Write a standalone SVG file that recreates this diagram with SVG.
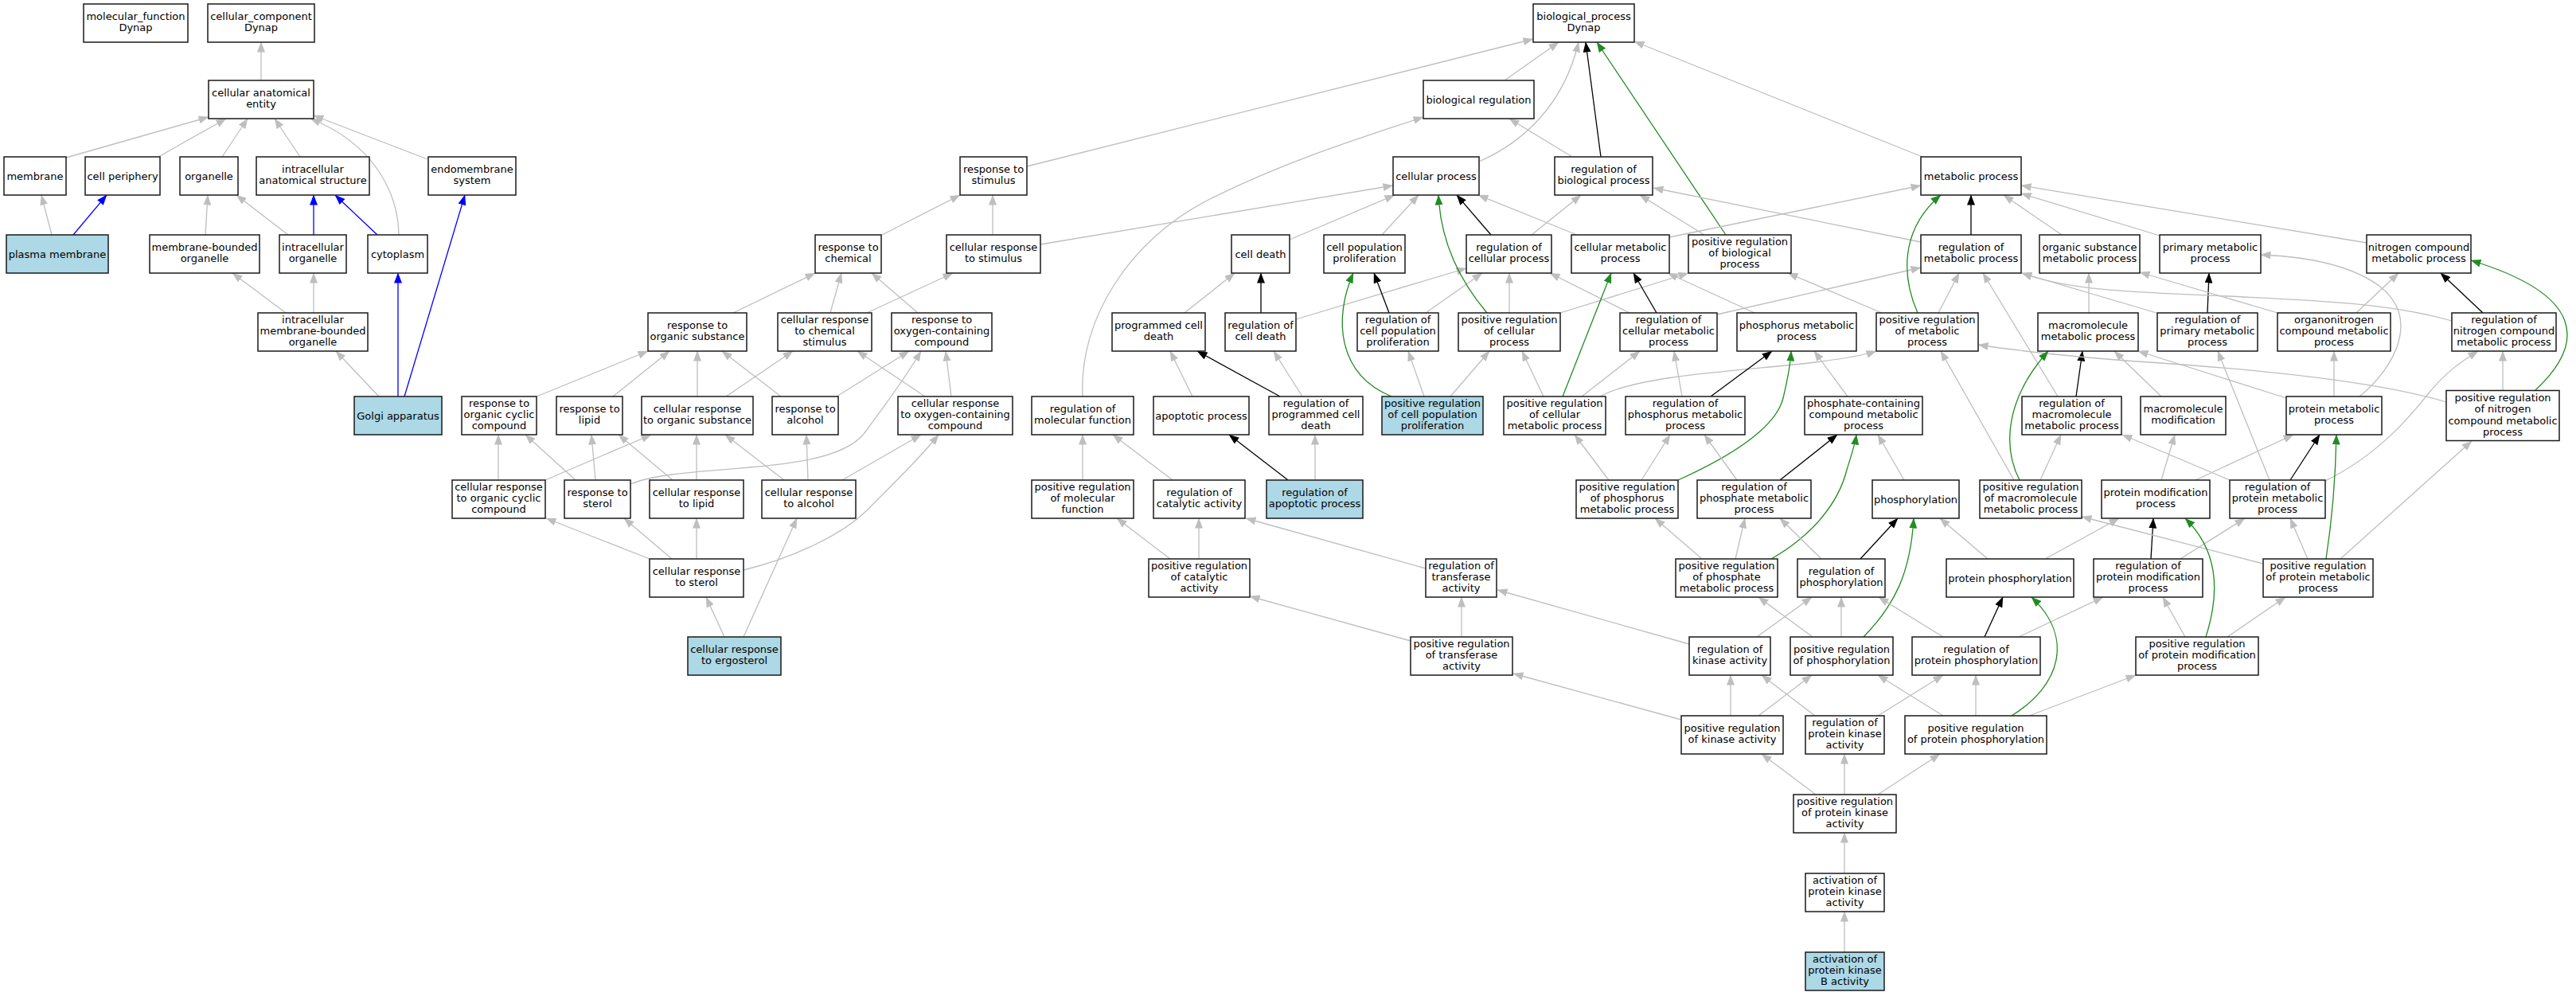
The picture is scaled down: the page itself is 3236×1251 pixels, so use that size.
<svg xmlns="http://www.w3.org/2000/svg" width="3236" height="1251" viewBox="0 0 3236 1251">
<style>
.bg{fill:#fff}
.n rect{fill:#fff;stroke:#1a1a1a;stroke-width:1.5}
.n.b rect{fill:#add8e6}
.n text{font-family:"DejaVu Sans",sans-serif;font-size:13px;text-anchor:middle;fill:#000}
.e path{fill:none;stroke-width:1.3}
.e .g{stroke:#bebebe;marker-end:url(#ag)}
.e .k{stroke:#000;marker-end:url(#ak)}
.e .v{stroke:#228b22;marker-end:url(#av)}
.e .u{stroke:#0000ff;marker-end:url(#au)}
</style>
<defs>
<marker id="ag" markerUnits="userSpaceOnUse" markerWidth="13" markerHeight="10" refX="12.5" refY="5" orient="auto"><path d="M0,0 L13,5 L0,10 z" fill="#bebebe"/></marker>
<marker id="ak" markerUnits="userSpaceOnUse" markerWidth="13" markerHeight="10" refX="12.5" refY="5" orient="auto"><path d="M0,0 L13,5 L0,10 z" fill="#000"/></marker>
<marker id="av" markerUnits="userSpaceOnUse" markerWidth="13" markerHeight="10" refX="12.5" refY="5" orient="auto"><path d="M0,0 L13,5 L0,10 z" fill="#228b22"/></marker>
<marker id="au" markerUnits="userSpaceOnUse" markerWidth="13" markerHeight="10" refX="12.5" refY="5" orient="auto"><path d="M0,0 L13,5 L0,10 z" fill="#0000ff"/></marker>
</defs>
<rect class="bg" x="0" y="0" width="3236" height="1251"/>
<g id="edges" class="e">
<path class="g" d="M328,101 L328,53"/>
<path class="g" d="M83,198 L262,147"/>
<path class="g" d="M199,197 L284,149"/>
<path class="g" d="M279,197 L311,149"/>
<path class="g" d="M377,197 L345,149"/>
<path class="g" d="M537,200 L394,145"/>
<path class="g" d="M501,295 C500,240 468,180 390,149"/>
<path class="g" d="M65,295 L52,245"/>
<path class="u" d="M92,295 L134,245"/>
<path class="g" d="M258,295 L261,245"/>
<path class="g" d="M362,295 L297,245"/>
<path class="u" d="M394,295 L394,245"/>
<path class="u" d="M474,295 L421,245"/>
<path class="g" d="M359,393 L292,343"/>
<path class="g" d="M394,393 L394,343"/>
<path class="g" d="M476,498 L422,441"/>
<path class="u" d="M500,498 L500,343"/>
<path class="u" d="M508,498 L584,245"/>
<path class="g" d="M1108,295 L1206,245"/>
<path class="g" d="M1247,295 L1247,245"/>
<path class="g" d="M1290,209 L1926,49"/>
<path class="g" d="M1307,307 L1750,233"/>
<path class="g" d="M921,393 L1024,343"/>
<path class="g" d="M1043,393 L1057,343"/>
<path class="g" d="M1089,393 L1197,343"/>
<path class="g" d="M1153,393 L1095,343"/>
<path class="g" d="M876,498 L876,441"/>
<path class="g" d="M912,498 L996,441"/>
<path class="g" d="M981,498 L907,441"/>
<path class="g" d="M1051,498 L1142,441"/>
<path class="g" d="M1195,498 L1188,441"/>
<path class="g" d="M1162,498 L1077,441"/>
<path class="g" d="M674,498 L814,441"/>
<path class="g" d="M770,498 L841,441"/>
<path class="g" d="M626,603 L626,546"/>
<path class="g" d="M685,603 L818,546"/>
<path class="g" d="M723,603 L660,546"/>
<path class="g" d="M748,603 L743,546"/>
<path class="g" d="M792,608 C860,580 1040,600 1085,545 C1115,505 1140,470 1157,441"/>
<path class="g" d="M845,603 L777,546"/>
<path class="g" d="M875,603 L875,546"/>
<path class="g" d="M985,603 L911,546"/>
<path class="g" d="M1015,603 L1013,546"/>
<path class="g" d="M1058,603 L1157,546"/>
<path class="g" d="M816,702 L686,651"/>
<path class="g" d="M844,702 L784,651"/>
<path class="g" d="M875,702 L875,651"/>
<path class="g" d="M934,716 C1000,700 1060,670 1090,640 C1130,600 1160,570 1179,546"/>
<path class="g" d="M910,800 L887,750"/>
<path class="g" d="M934,800 L1001,651"/>
<path class="g" d="M1890,101 L1958,53"/>
<path class="g" d="M1858,203 C1915,178 1965,130 1983,53"/>
<path class="k" d="M2011,197 L1992,53"/>
<path class="g" d="M1975,197 L1896,149"/>
<path class="v" d="M2168,295 L2006,53"/>
<path class="g" d="M2141,295 L2060,245"/>
<path class="g" d="M2415,197 L2053,52"/>
<path class="g" d="M1360,498 C1355,400 1420,300 1520,250 C1620,200 1720,170 1788,147"/>
<path class="g" d="M1620,301 L1752,245"/>
<path class="g" d="M1736,295 L1782,245"/>
<path class="k" d="M1873,295 L1830,245"/>
<path class="g" d="M1924,295 L1986,245"/>
<path class="g" d="M1981,295 L1857,245"/>
<path class="g" d="M2097,298 L2413,233"/>
<path class="k" d="M2476,295 L2476,245"/>
<path class="g" d="M2413,304 L2077,236"/>
<path class="g" d="M2590,295 L2517,245"/>
<path class="g" d="M2713,296 L2539,243"/>
<path class="g" d="M2973,305 L2539,233"/>
<path class="g" d="M1488,393 L1551,343"/>
<path class="k" d="M1584,393 L1584,343"/>
<path class="g" d="M1628,401 L1842,337"/>
<path class="k" d="M1745,393 L1726,343"/>
<path class="g" d="M1791,393 L1862,343"/>
<path class="v" d="M1868,393 C1840,360 1810,310 1807,245"/>
<path class="g" d="M1896,393 L1896,343"/>
<path class="g" d="M1960,393 L2121,343"/>
<path class="k" d="M2081,393 L2052,343"/>
<path class="g" d="M2047,393 L1947,343"/>
<path class="g" d="M2157,395 L2413,336"/>
<path class="g" d="M2204,393 L2095,343"/>
<path class="v" d="M2409,393 C2390,350 2385,290 2438,245"/>
<path class="g" d="M2435,393 L2461,343"/>
<path class="g" d="M2364,393 L2246,343"/>
<path class="g" d="M2624,393 L2624,343"/>
<path class="k" d="M2773,393 L2775,343"/>
<path class="g" d="M2709,393 L2540,343"/>
<path class="g" d="M2861,393 L2688,342"/>
<path class="g" d="M2960,393 L3013,343"/>
<path class="k" d="M3119,393 L3066,343"/>
<path class="g" d="M3080,403 C3000,380 2900,377 2800,372 C2680,367 2600,365 2540,343"/>
<path class="g" d="M1498,498 L1470,441"/>
<path class="k" d="M1608,498 L1504,441"/>
<path class="g" d="M1636,498 L1600,441"/>
<path class="v" d="M1748,498 C1680,470 1675,400 1700,343"/>
<path class="g" d="M1789,498 L1769,441"/>
<path class="g" d="M1822,498 L1871,441"/>
<path class="g" d="M1939,498 L1912,441"/>
<path class="v" d="M1963,498 L2024,343"/>
<path class="g" d="M1987,498 L2060,441"/>
<path class="g" d="M2010,498 C2060,470 2200,465 2280,455 C2320,450 2345,445 2357,441"/>
<path class="g" d="M2113,498 L2103,441"/>
<path class="k" d="M2149,498 L2226,441"/>
<path class="g" d="M2321,498 L2279,441"/>
<path class="k" d="M2608,498 L2616,441"/>
<path class="g" d="M2585,498 L2491,343"/>
<path class="g" d="M2715,498 L2656,441"/>
<path class="g" d="M2872,500 L2686,441"/>
<path class="g" d="M2932,498 L2932,441"/>
<path class="g" d="M2964,498 C3010,460 3040,400 2990,360 C2950,330 2890,322 2840,320"/>
<path class="v" d="M3184,491 C3250,430 3245,370 3104,327"/>
<path class="g" d="M3144,491 L3144,441"/>
<path class="g" d="M3073,505 C2990,480 2850,465 2700,455 C2600,448 2530,440 2485,433"/>
<path class="k" d="M1618,603 L1544,546"/>
<path class="g" d="M1652,603 L1652,546"/>
<path class="g" d="M1360,603 L1360,546"/>
<path class="g" d="M1473,603 L1398,546"/>
<path class="g" d="M2021,603 L1978,546"/>
<path class="g" d="M2062,603 L2098,546"/>
<path class="v" d="M2108,603 C2170,575 2230,540 2240,500 C2246,475 2249,460 2250,441"/>
<path class="g" d="M2182,603 L2141,546"/>
<path class="k" d="M2236,603 L2308,546"/>
<path class="g" d="M2392,603 L2359,546"/>
<path class="v" d="M2537,603 C2515,560 2520,500 2573,441"/>
<path class="g" d="M2563,603 L2589,546"/>
<path class="g" d="M2530,603 L2438,441"/>
<path class="g" d="M2715,603 L2732,546"/>
<path class="g" d="M2758,603 L2881,546"/>
<path class="k" d="M2877,603 L2914,546"/>
<path class="g" d="M2801,603 L2666,546"/>
<path class="g" d="M2851,603 L2786,441"/>
<path class="g" d="M2921,604 C2990,570 3030,520 3050,495 C3070,470 3090,455 3113,441"/>
<path class="g" d="M1470,702 L1403,651"/>
<path class="g" d="M1506,702 L1506,651"/>
<path class="g" d="M1791,714 L1565,651"/>
<path class="g" d="M2138,702 L2079,651"/>
<path class="g" d="M2180,702 L2192,651"/>
<path class="v" d="M2225,702 C2280,670 2310,630 2320,590 C2326,570 2330,560 2332,546"/>
<path class="g" d="M2288,702 L2236,651"/>
<path class="k" d="M2337,702 L2384,651"/>
<path class="g" d="M2497,702 L2437,651"/>
<path class="g" d="M2569,702 L2662,651"/>
<path class="k" d="M2702,702 L2705,651"/>
<path class="g" d="M2739,702 L2820,651"/>
<path class="g" d="M2899,702 L2877,651"/>
<path class="v" d="M2922,702 C2930,650 2934,600 2935,546"/>
<path class="g" d="M2940,702 L3105,554"/>
<path class="g" d="M2843,708 L2615,649"/>
<path class="g" d="M1836,800 L1836,750"/>
<path class="g" d="M1772,805 L1570,749"/>
<path class="g" d="M2122,809 L1881,741"/>
<path class="g" d="M2207,800 L2276,750"/>
<path class="g" d="M2277,800 L2209,750"/>
<path class="g" d="M2313,800 L2313,750"/>
<path class="v" d="M2341,800 C2380,760 2400,720 2404,651"/>
<path class="g" d="M2441,800 L2360,750"/>
<path class="k" d="M2493,800 L2516,750"/>
<path class="g" d="M2536,800 L2642,750"/>
<path class="g" d="M2745,800 L2717,750"/>
<path class="v" d="M2771,800 C2790,740 2785,690 2745,651"/>
<path class="g" d="M2798,800 L2871,750"/>
<path class="g" d="M2112,904 L1901,846"/>
<path class="g" d="M2174,899 L2174,848"/>
<path class="g" d="M2209,899 L2276,848"/>
<path class="g" d="M2280,899 L2213,848"/>
<path class="g" d="M2359,899 L2441,848"/>
<path class="g" d="M2441,899 L2359,848"/>
<path class="g" d="M2482,899 L2482,848"/>
<path class="v" d="M2527,899 C2590,860 2605,800 2552,750"/>
<path class="g" d="M2549,899 L2683,848"/>
<path class="g" d="M2281,998 L2213,947"/>
<path class="g" d="M2317,998 L2317,947"/>
<path class="g" d="M2359,998 L2437,947"/>
<path class="g" d="M2317,1097 L2317,1046"/>
<path class="g" d="M2317,1196 L2317,1145"/>
</g>
<g id="n_mf" class="n"><rect x="105" y="5" width="131" height="48"/><text><tspan x="170.5" y="24.8">molecular_function</tspan><tspan x="170.5" y="39.2">Dynap</tspan></text></g>
<g id="n_cc" class="n"><rect x="261" y="5" width="134" height="48"/><text><tspan x="328" y="24.8">cellular_component</tspan><tspan x="328" y="39.2">Dynap</tspan></text></g>
<g id="n_bp" class="n"><rect x="1926" y="5" width="127" height="48"/><text><tspan x="1989.5" y="24.8">biological_process</tspan><tspan x="1989.5" y="39.2">Dynap</tspan></text></g>
<g id="n_cae" class="n"><rect x="262" y="101" width="132" height="48"/><text><tspan x="328" y="120.8">cellular anatomical</tspan><tspan x="328" y="135.2">entity</tspan></text></g>
<g id="n_breg" class="n"><rect x="1788" y="101" width="139" height="48"/><text><tspan x="1857.5" y="129.5">biological regulation</tspan></text></g>
<g id="n_membrane" class="n"><rect x="5" y="197" width="78" height="48"/><text><tspan x="44" y="225.5">membrane</tspan></text></g>
<g id="n_cellperiph" class="n"><rect x="107" y="197" width="94" height="48"/><text><tspan x="154" y="225.5">cell periphery</tspan></text></g>
<g id="n_organelle" class="n"><rect x="226" y="197" width="73" height="48"/><text><tspan x="262.5" y="225.5">organelle</tspan></text></g>
<g id="n_ias" class="n"><rect x="322" y="197" width="142" height="48"/><text><tspan x="393" y="216.8">intracellular</tspan><tspan x="393" y="231.2">anatomical structure</tspan></text></g>
<g id="n_endo" class="n"><rect x="538" y="197" width="110" height="48"/><text><tspan x="593" y="216.8">endomembrane</tspan><tspan x="593" y="231.2">system</tspan></text></g>
<g id="n_rstim" class="n"><rect x="1206" y="197" width="84" height="48"/><text><tspan x="1248" y="216.8">response to</tspan><tspan x="1248" y="231.2">stimulus</tspan></text></g>
<g id="n_cellproc" class="n"><rect x="1750" y="197" width="108" height="48"/><text><tspan x="1804" y="225.5">cellular process</tspan></text></g>
<g id="n_regbp" class="n"><rect x="1953" y="197" width="123" height="48"/><text><tspan x="2014.5" y="216.8">regulation of</tspan><tspan x="2014.5" y="231.2">biological process</tspan></text></g>
<g id="n_metab" class="n"><rect x="2413" y="197" width="126" height="48"/><text><tspan x="2476" y="225.5">metabolic process</tspan></text></g>
<g id="n_pm" class="n b"><rect x="8" y="295" width="128" height="48"/><text><tspan x="72" y="323.5">plasma membrane</tspan></text></g>
<g id="n_mbo" class="n"><rect x="188" y="295" width="138" height="48"/><text><tspan x="257" y="314.8">membrane-bounded</tspan><tspan x="257" y="329.2">organelle</tspan></text></g>
<g id="n_io" class="n"><rect x="351" y="295" width="84" height="48"/><text><tspan x="393" y="314.8">intracellular</tspan><tspan x="393" y="329.2">organelle</tspan></text></g>
<g id="n_cyto" class="n"><rect x="462" y="295" width="75" height="48"/><text><tspan x="499.5" y="323.5">cytoplasm</tspan></text></g>
<g id="n_rchem" class="n"><rect x="1024" y="295" width="83" height="48"/><text><tspan x="1065.5" y="314.8">response to</tspan><tspan x="1065.5" y="329.2">chemical</tspan></text></g>
<g id="n_crstim" class="n"><rect x="1189" y="295" width="118" height="48"/><text><tspan x="1248" y="314.8">cellular response</tspan><tspan x="1248" y="329.2">to stimulus</tspan></text></g>
<g id="n_celldeath" class="n"><rect x="1547" y="295" width="73" height="48"/><text><tspan x="1583.5" y="323.5">cell death</tspan></text></g>
<g id="n_cpp" class="n"><rect x="1663" y="295" width="102" height="48"/><text><tspan x="1714" y="314.8">cell population</tspan><tspan x="1714" y="329.2">proliferation</tspan></text></g>
<g id="n_regcp" class="n"><rect x="1842" y="295" width="107" height="48"/><text><tspan x="1895.5" y="314.8">regulation of</tspan><tspan x="1895.5" y="329.2">cellular process</tspan></text></g>
<g id="n_cmp" class="n"><rect x="1974" y="295" width="123" height="48"/><text><tspan x="2035.5" y="314.8">cellular metabolic</tspan><tspan x="2035.5" y="329.2">process</tspan></text></g>
<g id="n_posregbp" class="n"><rect x="2121" y="295" width="129" height="48"/><text><tspan x="2185.5" y="307.6">positive regulation</tspan><tspan x="2185.5" y="322">of biological</tspan><tspan x="2185.5" y="336.4">process</tspan></text></g>
<g id="n_regmp" class="n"><rect x="2413" y="295" width="126" height="48"/><text><tspan x="2476" y="314.8">regulation of</tspan><tspan x="2476" y="329.2">metabolic process</tspan></text></g>
<g id="n_osmp" class="n"><rect x="2562" y="295" width="126" height="48"/><text><tspan x="2625" y="314.8">organic substance</tspan><tspan x="2625" y="329.2">metabolic process</tspan></text></g>
<g id="n_pmp" class="n"><rect x="2713" y="295" width="127" height="48"/><text><tspan x="2776.5" y="314.8">primary metabolic</tspan><tspan x="2776.5" y="329.2">process</tspan></text></g>
<g id="n_ncmp" class="n"><rect x="2973" y="295" width="131" height="48"/><text><tspan x="3038.5" y="314.8">nitrogen compound</tspan><tspan x="3038.5" y="329.2">metabolic process</tspan></text></g>
<g id="n_imbo" class="n"><rect x="324" y="393" width="138" height="48"/><text><tspan x="393" y="405.6">intracellular</tspan><tspan x="393" y="420">membrane-bounded</tspan><tspan x="393" y="434.4">organelle</tspan></text></g>
<g id="n_ros" class="n"><rect x="814" y="393" width="124" height="48"/><text><tspan x="876" y="412.8">response to</tspan><tspan x="876" y="427.2">organic substance</tspan></text></g>
<g id="n_crchem" class="n"><rect x="977" y="393" width="118" height="48"/><text><tspan x="1036" y="405.6">cellular response</tspan><tspan x="1036" y="420">to chemical</tspan><tspan x="1036" y="434.4">stimulus</tspan></text></g>
<g id="n_roxy" class="n"><rect x="1120" y="393" width="126" height="48"/><text><tspan x="1183" y="405.6">response to</tspan><tspan x="1183" y="420">oxygen-containing</tspan><tspan x="1183" y="434.4">compound</tspan></text></g>
<g id="n_pcd" class="n"><rect x="1397" y="393" width="117" height="48"/><text><tspan x="1455.5" y="412.8">programmed cell</tspan><tspan x="1455.5" y="427.2">death</tspan></text></g>
<g id="n_regcd" class="n"><rect x="1539" y="393" width="89" height="48"/><text><tspan x="1583.5" y="412.8">regulation of</tspan><tspan x="1583.5" y="427.2">cell death</tspan></text></g>
<g id="n_regcpp" class="n"><rect x="1705" y="393" width="102" height="48"/><text><tspan x="1756" y="405.6">regulation of</tspan><tspan x="1756" y="420">cell population</tspan><tspan x="1756" y="434.4">proliferation</tspan></text></g>
<g id="n_posregcp" class="n"><rect x="1832" y="393" width="128" height="48"/><text><tspan x="1896" y="405.6">positive regulation</tspan><tspan x="1896" y="420">of cellular</tspan><tspan x="1896" y="434.4">process</tspan></text></g>
<g id="n_regcmp" class="n"><rect x="2035" y="393" width="122" height="48"/><text><tspan x="2096" y="405.6">regulation of</tspan><tspan x="2096" y="420">cellular metabolic</tspan><tspan x="2096" y="434.4">process</tspan></text></g>
<g id="n_phosmp" class="n"><rect x="2182" y="393" width="150" height="48"/><text><tspan x="2257" y="412.8">phosphorus metabolic</tspan><tspan x="2257" y="427.2">process</tspan></text></g>
<g id="n_posregmp" class="n"><rect x="2357" y="393" width="128" height="48"/><text><tspan x="2421" y="405.6">positive regulation</tspan><tspan x="2421" y="420">of metabolic</tspan><tspan x="2421" y="434.4">process</tspan></text></g>
<g id="n_mmp" class="n"><rect x="2560" y="393" width="126" height="48"/><text><tspan x="2623" y="412.8">macromolecule</tspan><tspan x="2623" y="427.2">metabolic process</tspan></text></g>
<g id="n_regpmp" class="n"><rect x="2710" y="393" width="126" height="48"/><text><tspan x="2773" y="405.6">regulation of</tspan><tspan x="2773" y="420">primary metabolic</tspan><tspan x="2773" y="434.4">process</tspan></text></g>
<g id="n_onmp" class="n"><rect x="2861" y="393" width="142" height="48"/><text><tspan x="2932" y="405.6">organonitrogen</tspan><tspan x="2932" y="420">compound metabolic</tspan><tspan x="2932" y="434.4">process</tspan></text></g>
<g id="n_regncmp" class="n"><rect x="3080" y="393" width="131" height="48"/><text><tspan x="3145.5" y="405.6">regulation of</tspan><tspan x="3145.5" y="420">nitrogen compound</tspan><tspan x="3145.5" y="434.4">metabolic process</tspan></text></g>
<g id="n_golgi" class="n b"><rect x="445" y="498" width="110" height="48"/><text><tspan x="500" y="526.5">Golgi apparatus</tspan></text></g>
<g id="n_rocc" class="n"><rect x="580" y="498" width="94" height="48"/><text><tspan x="627" y="510.6">response to</tspan><tspan x="627" y="525">organic cyclic</tspan><tspan x="627" y="539.4">compound</tspan></text></g>
<g id="n_rlipid" class="n"><rect x="699" y="498" width="83" height="48"/><text><tspan x="740.5" y="517.8">response to</tspan><tspan x="740.5" y="532.2">lipid</tspan></text></g>
<g id="n_cros" class="n"><rect x="806" y="498" width="140" height="48"/><text><tspan x="876" y="517.8">cellular response</tspan><tspan x="876" y="532.2">to organic substance</tspan></text></g>
<g id="n_ralc" class="n"><rect x="970" y="498" width="83" height="48"/><text><tspan x="1011.5" y="517.8">response to</tspan><tspan x="1011.5" y="532.2">alcohol</tspan></text></g>
<g id="n_croxy" class="n"><rect x="1128" y="498" width="144" height="48"/><text><tspan x="1200" y="510.6">cellular response</tspan><tspan x="1200" y="525">to oxygen-containing</tspan><tspan x="1200" y="539.4">compound</tspan></text></g>
<g id="n_regmf" class="n"><rect x="1296" y="498" width="128" height="48"/><text><tspan x="1360" y="517.8">regulation of</tspan><tspan x="1360" y="532.2">molecular function</tspan></text></g>
<g id="n_apop" class="n"><rect x="1449" y="498" width="120" height="48"/><text><tspan x="1509" y="526.5">apoptotic process</tspan></text></g>
<g id="n_regpcd" class="n"><rect x="1594" y="498" width="118" height="48"/><text><tspan x="1653" y="510.6">regulation of</tspan><tspan x="1653" y="525">programmed cell</tspan><tspan x="1653" y="539.4">death</tspan></text></g>
<g id="n_posregcpp" class="n b"><rect x="1736" y="498" width="127" height="48"/><text><tspan x="1799.5" y="510.6">positive regulation</tspan><tspan x="1799.5" y="525">of cell population</tspan><tspan x="1799.5" y="539.4">proliferation</tspan></text></g>
<g id="n_posregcmp" class="n"><rect x="1889" y="498" width="128" height="48"/><text><tspan x="1953" y="510.6">positive regulation</tspan><tspan x="1953" y="525">of cellular</tspan><tspan x="1953" y="539.4">metabolic process</tspan></text></g>
<g id="n_regphosmp" class="n"><rect x="2042" y="498" width="150" height="48"/><text><tspan x="2117" y="510.6">regulation of</tspan><tspan x="2117" y="525">phosphorus metabolic</tspan><tspan x="2117" y="539.4">process</tspan></text></g>
<g id="n_pccmp" class="n"><rect x="2267" y="498" width="148" height="48"/><text><tspan x="2341" y="510.6">phosphate-containing</tspan><tspan x="2341" y="525">compound metabolic</tspan><tspan x="2341" y="539.4">process</tspan></text></g>
<g id="n_regmacmp" class="n"><rect x="2540" y="498" width="125" height="48"/><text><tspan x="2602.5" y="510.6">regulation of</tspan><tspan x="2602.5" y="525">macromolecule</tspan><tspan x="2602.5" y="539.4">metabolic process</tspan></text></g>
<g id="n_macmod" class="n"><rect x="2689" y="498" width="107" height="48"/><text><tspan x="2742.5" y="517.8">macromolecule</tspan><tspan x="2742.5" y="532.2">modification</tspan></text></g>
<g id="n_protmp" class="n"><rect x="2872" y="498" width="120" height="48"/><text><tspan x="2932" y="517.8">protein metabolic</tspan><tspan x="2932" y="532.2">process</tspan></text></g>
<g id="n_posregncmp" class="n"><rect x="3073" y="490.5" width="142" height="63"/><text><tspan x="3144" y="503.9">positive regulation</tspan><tspan x="3144" y="518.3">of nitrogen</tspan><tspan x="3144" y="532.7">compound metabolic</tspan><tspan x="3144" y="547.1">process</tspan></text></g>
<g id="n_crocc" class="n"><rect x="568" y="603" width="117" height="48"/><text><tspan x="626.5" y="615.6">cellular response</tspan><tspan x="626.5" y="630">to organic cyclic</tspan><tspan x="626.5" y="644.4">compound</tspan></text></g>
<g id="n_rsterol" class="n"><rect x="709" y="603" width="83" height="48"/><text><tspan x="750.5" y="622.8">response to</tspan><tspan x="750.5" y="637.2">sterol</tspan></text></g>
<g id="n_crlipid" class="n"><rect x="816" y="603" width="118" height="48"/><text><tspan x="875" y="622.8">cellular response</tspan><tspan x="875" y="637.2">to lipid</tspan></text></g>
<g id="n_cralc" class="n"><rect x="957" y="603" width="118" height="48"/><text><tspan x="1016" y="622.8">cellular response</tspan><tspan x="1016" y="637.2">to alcohol</tspan></text></g>
<g id="n_posregmf" class="n"><rect x="1296" y="603" width="128" height="48"/><text><tspan x="1360" y="615.6">positive regulation</tspan><tspan x="1360" y="630">of molecular</tspan><tspan x="1360" y="644.4">function</tspan></text></g>
<g id="n_regcat" class="n"><rect x="1449" y="603" width="115" height="48"/><text><tspan x="1506.5" y="622.8">regulation of</tspan><tspan x="1506.5" y="637.2">catalytic activity</tspan></text></g>
<g id="n_regapop" class="n b"><rect x="1591" y="603" width="121" height="48"/><text><tspan x="1651.5" y="622.8">regulation of</tspan><tspan x="1651.5" y="637.2">apoptotic process</tspan></text></g>
<g id="n_posregphosmp" class="n"><rect x="1980" y="603" width="128" height="48"/><text><tspan x="2044" y="615.6">positive regulation</tspan><tspan x="2044" y="630">of phosphorus</tspan><tspan x="2044" y="644.4">metabolic process</tspan></text></g>
<g id="n_regphatemp" class="n"><rect x="2132" y="603" width="143" height="48"/><text><tspan x="2203.5" y="615.6">regulation of</tspan><tspan x="2203.5" y="630">phosphate metabolic</tspan><tspan x="2203.5" y="644.4">process</tspan></text></g>
<g id="n_phosph" class="n"><rect x="2352" y="603" width="109" height="48"/><text><tspan x="2406.5" y="631.5">phosphorylation</tspan></text></g>
<g id="n_posregmacmp" class="n"><rect x="2487" y="603" width="128" height="48"/><text><tspan x="2551" y="615.6">positive regulation</tspan><tspan x="2551" y="630">of macromolecule</tspan><tspan x="2551" y="644.4">metabolic process</tspan></text></g>
<g id="n_protmod" class="n"><rect x="2640" y="603" width="136" height="48"/><text><tspan x="2708" y="622.8">protein modification</tspan><tspan x="2708" y="637.2">process</tspan></text></g>
<g id="n_regprotmp" class="n"><rect x="2801" y="603" width="120" height="48"/><text><tspan x="2861" y="615.6">regulation of</tspan><tspan x="2861" y="630">protein metabolic</tspan><tspan x="2861" y="644.4">process</tspan></text></g>
<g id="n_crsterol" class="n"><rect x="816" y="702" width="118" height="48"/><text><tspan x="875" y="721.8">cellular response</tspan><tspan x="875" y="736.2">to sterol</tspan></text></g>
<g id="n_posregcat" class="n"><rect x="1443" y="702" width="127" height="48"/><text><tspan x="1506.5" y="714.6">positive regulation</tspan><tspan x="1506.5" y="729">of catalytic</tspan><tspan x="1506.5" y="743.4">activity</tspan></text></g>
<g id="n_regtrans" class="n"><rect x="1791" y="702" width="89" height="48"/><text><tspan x="1835.5" y="714.6">regulation of</tspan><tspan x="1835.5" y="729">transferase</tspan><tspan x="1835.5" y="743.4">activity</tspan></text></g>
<g id="n_posregphatemp" class="n"><rect x="2105" y="702" width="128" height="48"/><text><tspan x="2169" y="714.6">positive regulation</tspan><tspan x="2169" y="729">of phosphate</tspan><tspan x="2169" y="743.4">metabolic process</tspan></text></g>
<g id="n_regphosph" class="n"><rect x="2258" y="702" width="110" height="48"/><text><tspan x="2313" y="721.8">regulation of</tspan><tspan x="2313" y="736.2">phosphorylation</tspan></text></g>
<g id="n_protphosph" class="n"><rect x="2445" y="702" width="160" height="48"/><text><tspan x="2525" y="730.5">protein phosphorylation</tspan></text></g>
<g id="n_regprotmod" class="n"><rect x="2630" y="702" width="137" height="48"/><text><tspan x="2698.5" y="714.6">regulation of</tspan><tspan x="2698.5" y="729">protein modification</tspan><tspan x="2698.5" y="743.4">process</tspan></text></g>
<g id="n_posregprotmp" class="n"><rect x="2843" y="702" width="138" height="48"/><text><tspan x="2912" y="714.6">positive regulation</tspan><tspan x="2912" y="729">of protein metabolic</tspan><tspan x="2912" y="743.4">process</tspan></text></g>
<g id="n_crergo" class="n b"><rect x="864" y="800" width="117" height="48"/><text><tspan x="922.5" y="819.8">cellular response</tspan><tspan x="922.5" y="834.2">to ergosterol</tspan></text></g>
<g id="n_posregtrans" class="n"><rect x="1772" y="800" width="128" height="48"/><text><tspan x="1836" y="812.6">positive regulation</tspan><tspan x="1836" y="827">of transferase</tspan><tspan x="1836" y="841.4">activity</tspan></text></g>
<g id="n_regkin" class="n"><rect x="2122" y="800" width="102" height="48"/><text><tspan x="2173" y="819.8">regulation of</tspan><tspan x="2173" y="834.2">kinase activity</tspan></text></g>
<g id="n_posregphosph" class="n"><rect x="2249" y="800" width="129" height="48"/><text><tspan x="2313.5" y="819.8">positive regulation</tspan><tspan x="2313.5" y="834.2">of phosphorylation</tspan></text></g>
<g id="n_regprotphosph" class="n"><rect x="2402" y="800" width="161" height="48"/><text><tspan x="2482.5" y="819.8">regulation of</tspan><tspan x="2482.5" y="834.2">protein phosphorylation</tspan></text></g>
<g id="n_posregprotmod" class="n"><rect x="2683" y="800" width="154" height="48"/><text><tspan x="2760" y="812.6">positive regulation</tspan><tspan x="2760" y="827">of protein modification</tspan><tspan x="2760" y="841.4">process</tspan></text></g>
<g id="n_posregkin" class="n"><rect x="2112" y="899" width="128" height="48"/><text><tspan x="2176" y="918.8">positive regulation</tspan><tspan x="2176" y="933.2">of kinase activity</tspan></text></g>
<g id="n_regpk" class="n"><rect x="2268" y="899" width="99" height="48"/><text><tspan x="2317.5" y="911.6">regulation of</tspan><tspan x="2317.5" y="926">protein kinase</tspan><tspan x="2317.5" y="940.4">activity</tspan></text></g>
<g id="n_posregprotphosph" class="n"><rect x="2393" y="899" width="178" height="48"/><text><tspan x="2482" y="918.8">positive regulation</tspan><tspan x="2482" y="933.2">of protein phosphorylation</tspan></text></g>
<g id="n_posregpk" class="n"><rect x="2253" y="998" width="129" height="48"/><text><tspan x="2317.5" y="1010.6">positive regulation</tspan><tspan x="2317.5" y="1025">of protein kinase</tspan><tspan x="2317.5" y="1039.4">activity</tspan></text></g>
<g id="n_actpk" class="n"><rect x="2268" y="1097" width="99" height="48"/><text><tspan x="2317.5" y="1109.6">activation of</tspan><tspan x="2317.5" y="1124">protein kinase</tspan><tspan x="2317.5" y="1138.4">activity</tspan></text></g>
<g id="n_actpkb" class="n b"><rect x="2268" y="1196" width="99" height="48"/><text><tspan x="2317.5" y="1208.6">activation of</tspan><tspan x="2317.5" y="1223">protein kinase</tspan><tspan x="2317.5" y="1237.4">B activity</tspan></text></g>
</svg>
